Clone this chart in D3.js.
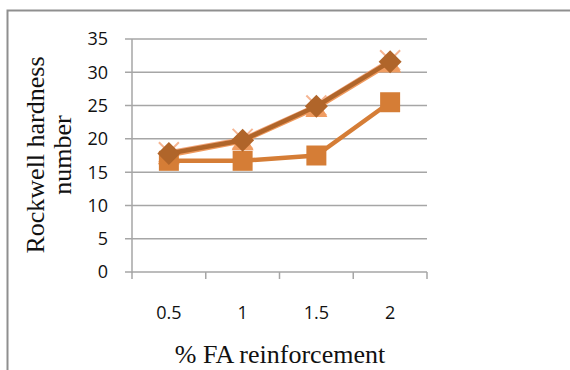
<!DOCTYPE html>
<html>
<head>
<meta charset="utf-8">
<script src="https://cdn.jsdelivr.net/npm/d3@7"></script>
<style>
  html, body { margin: 0; padding: 0; background: #fff; }
  svg { display: block; }
</style>
</head>
<body>
<svg id="chart" width="570" height="370"></svg>
<script>
// FA content (%) on the category axis
const categories = ["0.5", "1", "1.5", "2"];
// Rockwell hardness readings per series
const seriesDiamond  = [17.8, 19.8, 24.9, 31.6];
const seriesSquare   = [16.7, 16.7, 17.5, 25.5];
const seriesTriangle = [17.5, 19.6, 24.6, 31.3];
const seriesCross    = [18.0, 20.0, 25.0, 31.8];
const yTicks = [0, 5, 10, 15, 20, 25, 30, 35];

const svg = d3.select("#chart");

// outer frame (top and left edges)
svg.append("path")
  .attr("d", "M7.5,370 L7.5,10.5 L570,10.5")
  .attr("fill", "none").attr("stroke", "#8f8f8f").attr("stroke-width", 2);

const x = d3.scaleBand().domain(categories).range([132, 427]);
const y = d3.scaleLinear().domain([0, 35]).range([272, 39]);

const gridColor = "#a6a6a6";

// horizontal gridlines
svg.append("g").selectAll("line").data(yTicks).join("line")
  .attr("x1", 125).attr("x2", 427)
  .attr("y1", d => y(d)).attr("y2", d => y(d))
  .attr("stroke", gridColor).attr("stroke-width", 1.5);

// y axis line
svg.append("line")
  .attr("x1", 132).attr("x2", 132).attr("y1", y(35)).attr("y2", y(0) + 1)
  .attr("stroke", gridColor).attr("stroke-width", 1.5);

// x axis tick marks at category boundaries
const bounds = categories.map(c => x(c)).concat([x.range()[1]]);
svg.append("g").selectAll("line").data(bounds).join("line")
  .attr("x1", d => d).attr("x2", d => d)
  .attr("y1", y(0)).attr("y2", y(0) + 7)
  .attr("stroke", gridColor).attr("stroke-width", 1.5);

const tickFont = "'Open Sans', 'DejaVu Sans', sans-serif";
const titleFont = "'Liberation Serif', 'Times New Roman', serif";

// y tick labels
svg.append("g").selectAll("text").data(yTicks).join("text")
  .attr("x", 108).attr("y", d => y(d))
  .attr("dy", "0.36em")
  .attr("text-anchor", "end")
  .attr("font-family", tickFont)
  .attr("font-size", 18).attr("fill", "#111")
  .text(d => d);

// x tick labels
svg.append("g").selectAll("text").data(categories).join("text")
  .attr("x", d => x(d) + x.bandwidth() / 2).attr("y", 319)
  .attr("text-anchor", "middle")
  .attr("font-family", tickFont)
  .attr("font-size", 18).attr("fill", "#111")
  .text(d => d);

// axis titles
svg.append("text")
  .attr("x", 280).attr("y", 363)
  .attr("text-anchor", "middle")
  .attr("font-family", titleFont)
  .attr("font-size", 26).attr("fill", "#111")
  .text("% FA reinforcement");

const yTitle = svg.append("text")
  .attr("transform", "translate(44,155) rotate(-90)")
  .attr("text-anchor", "middle")
  .attr("font-family", titleFont)
  .attr("font-size", 26).attr("fill", "#111");
yTitle.append("tspan").attr("x", 0).attr("y", 0).text("Rockwell hardness");
yTitle.append("tspan").attr("x", 0).attr("y", 27).text("number");

const cx = c => x(c) + x.bandwidth() / 2;
const line = d3.line().x((d, i) => cx(categories[i])).y(d => y(d));

// marker shapes, s = half extent
const markers = {
  cross: s => `M${-s},${-s}L${s},${s}M${-s},${s}L${s},${-s}`,
  triangle: s => `M0,${-s}L${s},${s * 0.8}L${-s},${s * 0.8}Z`,
  square: s => `M${-s},${-s}H${s}V${s}H${-s}Z`,
  diamond: s => `M0,${-s}L${s},0L0,${s}L${-s},0Z`
};

function drawSeries(values, color, width, shape, s, fill, crossStroke) {
  const g = svg.append("g");
  g.append("path").datum(values)
    .attr("d", line).attr("fill", "none")
    .attr("stroke", color).attr("stroke-width", width)
    .attr("stroke-linejoin", "round");
  g.selectAll("path.m").data(values).join("path").attr("class", "m")
    .attr("transform", (d, i) => `translate(${cx(categories[i])},${y(d)})`)
    .attr("d", markers[shape](s))
    .attr("fill", crossStroke ? "none" : fill)
    .attr("stroke", crossStroke ? fill : "none")
    .attr("stroke-width", crossStroke || 0);
}

// series drawn back to front
drawSeries(seriesCross, "#f2a57a", 4, "cross", 10, "#f6b592", 2);
drawSeries(seriesTriangle, "#ef9a5e", 4, "triangle", 11, "#f09d62");
drawSeries(seriesSquare, "#d57d36", 4.5, "square", 10, "#d57d36");
drawSeries(seriesDiamond, "#b0652a", 4.5, "diamond", 11.5, "#b0652a");
</script>
</body>
</html>
